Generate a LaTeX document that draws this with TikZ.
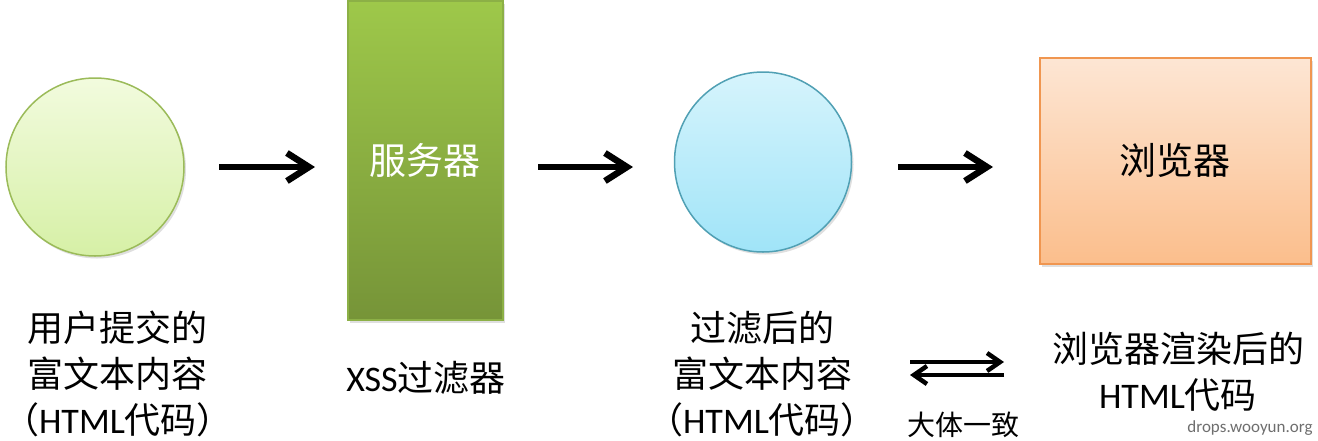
\documentclass[tikz,border=0pt]{standalone}
\usepackage{fontspec}
\setmainfont{Carlito}
\newfontfamily\cjk{Noto Sans CJK SC}
\usetikzlibrary{arrows.meta,shadows,shapes.geometric}
\begin{document}
\begin{tikzpicture}[x=1pt,y=-1pt,
  bigtxt/.style={font=\fontsize{36}{46}\selectfont, align=center, inner sep=0pt},
  shp/.style={line width=1.5pt, drop shadow={shadow xshift=2pt, shadow yshift=-2.5pt, opacity=0.25}},
  bigarrow/.style={line width=6.5pt, -{Straight Barb[length=22pt,width=28pt,line width=6.5pt]}},
  eqarrow/.style={line width=4.5pt, -{Straight Barb[length=13pt,width=18pt,line width=4.5pt]}}
]
\path[use as bounding box, fill=white] (0,0) rectangle (1318,440);

% shapes
\node[shp, circle, minimum size=178pt, draw={rgb,255:red,155;green,187;blue,89},
  top color={rgb,255:red,242;green,251;blue,222}, bottom color={rgb,255:red,214;green,240;blue,166}] (c1) at (95,167) {};
\node[shp, rectangle, minimum width=155pt, minimum height=319pt, draw={rgb,255:red,140;green,176;blue,70},
  top color={rgb,255:red,158;green,200;blue,74}, bottom color={rgb,255:red,118;green,148;blue,56}] (srv) at (425.5,160.5) {};
\node[font=\cjk\fontsize{37}{40}\selectfont, text=white, inner sep=0pt] (srvlbl) at (425,160) {服务器};
\node[shp, ellipse, minimum width=177pt, minimum height=180pt, draw={rgb,255:red,80;green,160;blue,180},
  top color={rgb,255:red,214;green,244;blue,252}, bottom color={rgb,255:red,160;green,228;blue,248}] (c2) at (763,162) {};
\node[shp, rectangle, minimum width=271pt, minimum height=206pt, draw={rgb,255:red,240;green,150;blue,80},
  top color={rgb,255:red,253;green,230;blue,212}, bottom color={rgb,255:red,251;green,190;blue,140}] (brw) at (1175.5,161) {};
\node[font=\cjk\fontsize{37}{40}\selectfont, inner sep=0pt] (brwlbl) at (1175,160) {浏览器};

% arrows
\coordinate (a1s) at (219,167);
\coordinate (a1e) at (315,167);
\coordinate (a2s) at (538,167);
\coordinate (a2e) at (633,167);
\coordinate (a3s) at (898,167);
\coordinate (a3e) at (993,167);
\draw[bigarrow] (a1s) -- (a1e);
\draw[bigarrow] (a2s) -- (a2e);
\draw[bigarrow] (a3s) -- (a3e);

% labels
\node[bigtxt] (l1) at (118,374) {{\cjk 用户提交的}\\{\cjk 富文本内容}\\{\cjk （}HTML{\cjk 代码）}};
\node[bigtxt] (l2) at (426,378) {XSS{\cjk 过滤器}};
\node[bigtxt] (l3) at (762,374) {{\cjk 过滤后的}\\{\cjk 富文本内容}\\{\cjk （}HTML{\cjk 代码）}};
\node[bigtxt] (l4) at (1178,372) {{\cjk 浏览器渲染后的}\\HTML{\cjk 代码}};

% equivalence arrows
\coordinate (e1s) at (910,362);
\coordinate (e1e) at (1004,362);
\coordinate (e2s) at (1004,375);
\coordinate (e2e) at (910,375);
\draw[eqarrow] (e1s) -- (e1e);
\draw[eqarrow] (e2s) -- (e2e);
\node[font=\cjk\fontsize{28}{32}\selectfont, inner sep=0pt] (same) at (963,425) {大体一致};
\node[font=\fontsize{17}{20}\selectfont, text={rgb,255:red,110;green,110;blue,110}, inner sep=0pt] (wm) at (1250,428) {drops.wooyun.org};
\end{tikzpicture}
\end{document}
